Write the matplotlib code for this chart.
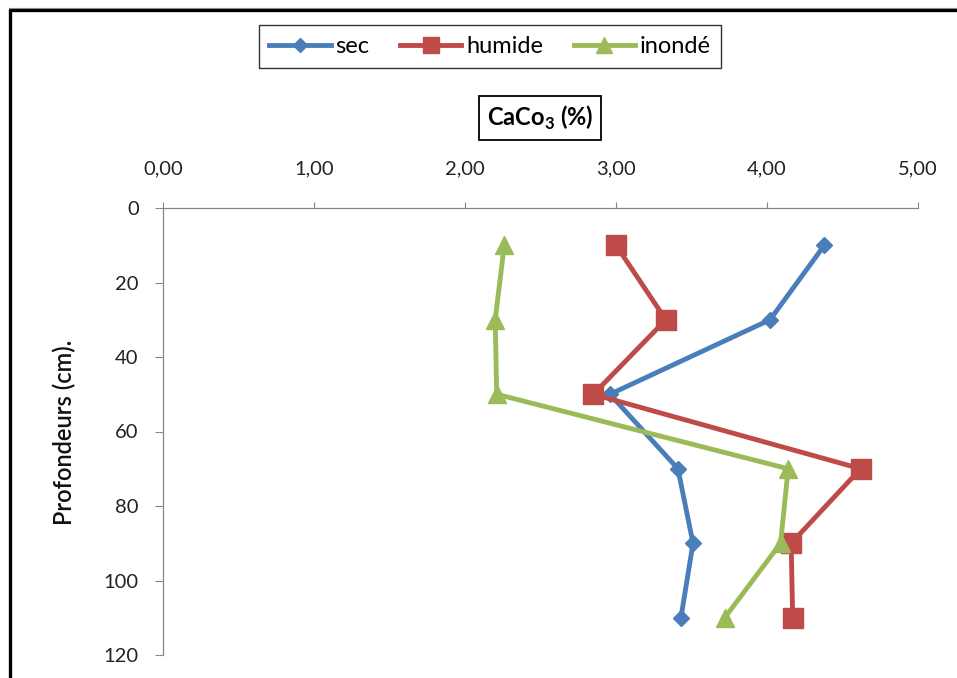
import matplotlib
matplotlib.use("Agg")
import matplotlib.pyplot as plt
from matplotlib.lines import Line2D
from matplotlib.ticker import FuncFormatter, MultipleLocator

plt.rcParams['font.family'] = ['Lato', 'DejaVu Sans']
plt.rcParams['mathtext.fontset'] = 'custom'
plt.rcParams['mathtext.rm'] = 'Lato'
plt.rcParams['mathtext.bf'] = 'Lato:bold'

# Depth of each sample (cm) and CaCO3 content (%) per soil condition
depths = [10, 30, 50, 70, 90, 110]
sec = [4.38, 4.02, 2.96, 3.41, 3.51, 3.43]
humide = [3.00, 3.33, 2.85, 4.62, 4.16, 4.17]
inonde = [2.26, 2.20, 2.21, 4.14, 4.09, 3.72]
series_names = ["sec", "humide", "inondé"]
x_label = r"CaCo$_\mathbf{3}$ (%)"
y_label = "Profondeurs (cm)."

fig = plt.figure(figsize=(9.57, 6.78), dpi=100)
ax = fig.add_axes([163/957, 1-655/678, (918-163)/957, (655-208)/678])

styles = [
    dict(color="#4A7EBB", marker="D", markersize=7.8),
    dict(color="#BE4B48", marker="s", markersize=14),
    dict(color="#9BBB59", marker="^", markersize=13),
]
handles = []
for vals, name, st in zip([sec, humide, inonde], series_names, styles):
    h, = ax.plot(vals, depths, lw=3.5, label=name, clip_on=False,
                 solid_joinstyle="round", **st)
    handles.append(h)

ax.set_xlim(0, 5)
ax.set_ylim(120, 0)
ax.xaxis.set_major_locator(MultipleLocator(1))
ax.yaxis.set_major_locator(MultipleLocator(20))
ax.xaxis.set_major_formatter(FuncFormatter(lambda v, p: f"{v:.2f}".replace(".", ",")))
ax.xaxis.tick_top()
for s in ["right", "bottom"]:
    ax.spines[s].set_visible(False)
for s in ["left", "top"]:
    ax.spines[s].set_color("#868686")
    ax.spines[s].set_linewidth(0.9)
ax.tick_params(axis="x", top=True, bottom=False, direction="out", length=4,
               color="#868686", pad=18, labelsize=14.5, labelcolor="#222222")
ax.tick_params(axis="y", direction="out", length=5.5, color="#868686",
               pad=12, labelsize=14.5, labelcolor="#222222")

fig.text(64/957, 1-432/678, y_label, rotation=90, ha="center", va="center",
         fontsize=17, fontweight="semibold", color="#111111")

fig.text(540/957, 1-118/678, x_label, ha="center", va="center",
         fontsize=17, fontweight="bold", color="black",
         bbox=dict(boxstyle="square,pad=0.32", fc="white", ec="black", lw=1.3))

leg = fig.legend(handles=handles, loc="center", bbox_to_anchor=(490/957, 1-46.5/678),
                 ncol=3, frameon=True, fancybox=False, edgecolor="black",
                 fontsize=17, handlelength=2.6, handletextpad=0.2,
                 columnspacing=1.3, borderpad=0.45, markerscale=0.85)
leg.get_frame().set_linewidth(1.0)

# Outer frame lines along the top and left edges
fig.add_artist(Line2D([10/957, 10/957], [1-9/678, 0], color="black", lw=2.4,
                      transform=fig.transFigure, solid_capstyle="butt"))
fig.add_artist(Line2D([9/957, 1], [1-10/678, 1-10/678], color="black", lw=2.4,
                      transform=fig.transFigure, solid_capstyle="butt"))
fig.add_artist(Line2D([9/957, 1], [1-8/678, 1-8/678], color="#888888", lw=0.8,
                      transform=fig.transFigure))

fig.savefig("out.png", dpi=100)
